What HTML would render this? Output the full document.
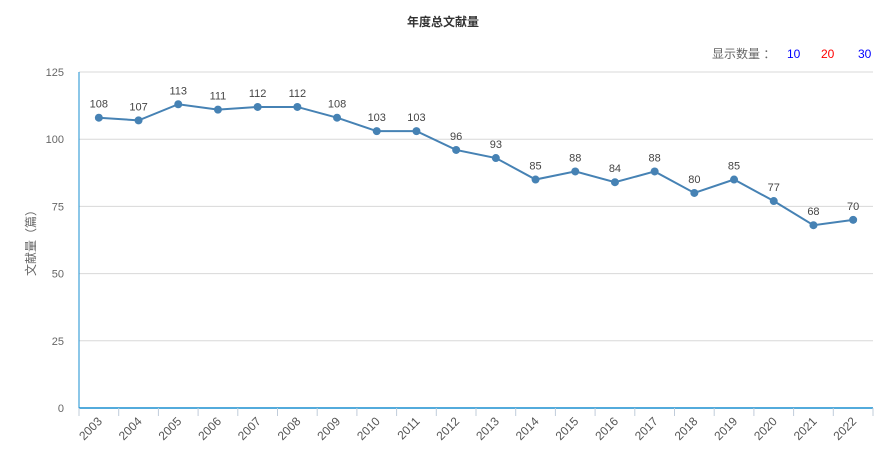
<!DOCTYPE html>
<html><head><meta charset="utf-8"><style>
body{margin:0;background:#fff;font-family:"Liberation Sans","Noto Sans CJK SC",sans-serif;}
svg text{font-family:"Liberation Sans","Noto Sans CJK SC",sans-serif;}
</style></head><body>
<svg id="c" width="895" height="465">
<text x="443" y="26" text-anchor="middle" font-size="12" font-weight="bold" fill="#333">年度总文献量</text>
<text x="712" y="58" font-size="12" fill="#666">显示数量 ：</text>
<text x="787" y="58" font-size="12" fill="#0000ff">10</text>
<text x="821" y="58" font-size="12" fill="#ff0000">20</text>
<text x="858" y="58" font-size="12" fill="#0000ff">30</text>
<text transform="translate(35,240) rotate(-90)" text-anchor="middle" font-size="12" fill="#666">文献量（篇）</text>
<g id="g"></g>
</svg>
<script>
const categories=["2003","2004","2005","2006","2007","2008","2009","2010","2011","2012","2013","2014","2015","2016","2017","2018","2019","2020","2021","2022"];
const values=[108,107,113,111,112,112,108,103,103,96,93,85,88,84,88,80,85,77,68,70];
const yTicks=[0,25,50,75,100,125];
const L=79,R=873,T=72,B=408,yMax=125;
const bw=(R-L)/categories.length;
const x=i=>L+bw*(i+0.5);
const y=v=>B-(v/yMax)*(B-T);
const g=document.getElementById('g');
const NS="http://www.w3.org/2000/svg";
function mk(t,a){const e=document.createElementNS(NS,t);for(const k in a)e.setAttribute(k,a[k]);g.appendChild(e);return e;}
yTicks.forEach(t=>{
 if(t>0){const l=mk('line',{x1:L,x2:R,y1:y(t),y2:y(t),stroke:'#d8d8d8'});
 
 }
 const tx=mk('text',{x:64,y:y(t)+4,'text-anchor':'end','font-size':11,fill:'#666'});tx.textContent=t;
 
 
});
const ya=mk('line',{x1:L,x2:L,y1:T,y2:B,stroke:'#1a8fd0'});


const xa=mk('line',{x1:L,x2:R,y1:B,y2:B,stroke:'#1a8fd0','stroke-width':1.5});


for(let i=0;i<=categories.length;i++){const tk=mk('line',{x1:L+bw*i,x2:L+bw*i,y1:B,y2:B+8,stroke:'#c0ccda'});
 
 }
categories.forEach((c,i)=>{
 const t=mk('text',{transform:`translate(${x(i)+4},${B+14}) rotate(-45)`,'text-anchor':'end','font-size':12,fill:'#555'});t.textContent=c;
 
 
});
const p=mk('polyline',{points:values.map((v,i)=>x(i)+','+y(v)).join(' '),fill:'none',stroke:'#4682b4','stroke-width':2});


values.forEach((v,i)=>{
 const d=mk('circle',{cx:x(i),cy:y(v),r:4,fill:'#4682b4'});
 
 
 const t=mk('text',{x:x(i),y:y(v)-10,'text-anchor':'middle','font-size':11,fill:'#444'});t.textContent=v;
 
 
});
</script>
</body></html>
